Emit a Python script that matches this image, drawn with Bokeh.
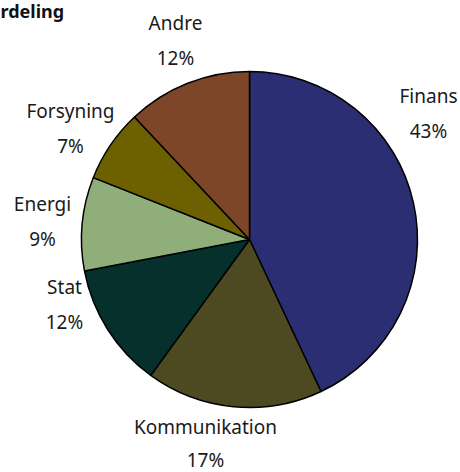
import math
from bokeh.plotting import figure
from bokeh.models import Range1d, ColumnDataSource
from bokeh.core.properties import value
from bokeh.embed import file_html
from bokeh.resources import INLINE

# ---- data ----
categories = ["Finans", "Kommunikation", "Stat", "Energi", "Forsyning", "Andre"]
shares = [43, 17, 12, 9, 7, 12]
pct_labels = ["43%", "17%", "12%", "9%", "7%", "12%"]
colors = ["#2b2e72", "#4d4a22", "#06302b", "#8fae79", "#6d6000", "#7e4628"]
title_text = "rdeling"

# ---- layout (picture pixel coordinates) ----
W, H = 460, 472
CX, CY, R = 249, 239, 168
label_pos = {  # centre of the label block (px)
    "Finans": (428, 113),
    "Kommunikation": (205, 443),
    "Stat": (64, 304),
    "Energi": (42, 221),
    "Forsyning": (70, 128),
    "Andre": (175, 40),
}
LINE_GAP = 35
BOTTOM_GAP = 33


def fx(px):
    return px


def fy(py):
    return H - py


total = sum(shares)
starts, ends = [], []
cum = 0.0
for s in shares:
    starts.append(math.pi / 2 - 2 * math.pi * cum / total)
    cum += s
    ends.append(math.pi / 2 - 2 * math.pi * cum / total)

src = ColumnDataSource(dict(cat=categories, start=starts, end=ends, color=colors))

p = figure(width=W, height=H, output_backend="svg", toolbar_location=None,
           x_range=Range1d(0, W), y_range=Range1d(0, H), min_border=0)
p.axis.visible = False
p.grid.visible = False
p.outline_line_color = None
p.background_fill_color = "white"
p.border_fill_color = "white"

p.wedge(x=fx(CX), y=fy(CY), radius=R, start_angle="start", end_angle="end",
        direction="clock", fill_color="color", line_color="black", line_width=1.5,
        source=src)

name_x, name_y, pct_x, pct_y = [], [], [], []
for c in categories:
    lx, ly = label_pos[c]
    gap = BOTTOM_GAP if c == "Kommunikation" else LINE_GAP
    name_x.append(fx(lx)); name_y.append(fy(ly - gap / 2))
    pct_x.append(fx(lx)); pct_y.append(fy(ly + gap / 2))

p.text(x=name_x, y=name_y, text=categories, text_align="center",
       text_baseline="middle", text_font=value("Noto Sans"),
       text_font_size="19px", text_color="#1a1a1a")
p.text(x=pct_x, y=pct_y, text=pct_labels, text_align="center",
       text_baseline="middle", text_font=value("Noto Sans"),
       text_font_size="19px", text_color="#1a1a1a")

p.text(x=[0], y=[H + 2], text=[title_text], text_align="left",
       text_baseline="top", text_font=value("Noto Sans"),
       text_font_size="18px", text_font_style="bold", text_color="#111111")

open("out.html", "w").write(file_html(p, INLINE))
